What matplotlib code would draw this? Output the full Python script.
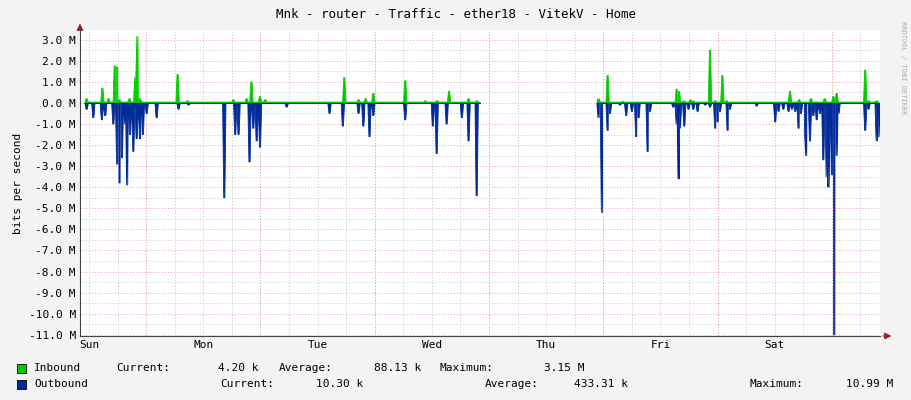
import numpy as np
import matplotlib
matplotlib.use('Agg')
import matplotlib.pyplot as plt
from matplotlib.patches import Rectangle

# --- DATOS (horas desde el inicio del gráfico, valores en Mbit/s) ---
in_t = [1.4, 4.7, 6.0, 7.3, 7.8, 8.3, 10.4, 11.6, 12.05, 12.6, 20.5, 22.6, 32.2, 35.0, 36.0, 37.8, 38.9,
        55.5, 58.5, 60.0, 61.6, 68.3, 72.5, 75.0, 77.5, 81.6, 83.3,
        108.9, 110.8, 114.0, 125.3, 125.8, 126.8, 128.2, 128.8, 132.3, 133.4, 134.9, 135.8, 149.1,
        151.0, 153.5, 156.4, 158.2, 158.9, 164.9, 165.6, 167.3]
in_v = [0.2, 0.7, 0.2, 1.75, 1.7, 0.15, 0.2, 1.2, 3.15, 0.2, 1.35, 0.1, 0.15, 0.2, 1.0, 0.3, 0.15,
        1.2, 0.15, 0.2, 0.45, 1.05, 0.1, 0.1, 0.55, 0.2, 0.1,
        0.2, 1.3, 0.07, 0.65, 0.55, 0.1, 0.15, 0.1, 2.5, 0.1, 1.3, 0.1, 0.55,
        0.15, 0.2, 0.2, 0.3, 0.45, 1.55, 0.1, 0.1]

out_t = [1.4, 2.8, 4.6, 5.3, 7.0, 7.8, 8.3, 8.8, 9.5, 9.9, 10.5, 11.2, 11.9, 12.6, 13.2, 14.0, 16.1,
         20.7, 22.8, 30.3, 32.6, 33.3, 35.6, 36.4, 37.1, 37.8, 43.4, 52.4, 55.2, 58.5, 59.5, 60.8,
         61.6, 68.3, 74.1, 74.9, 77.0, 80.2, 81.6, 83.3,
         108.9, 109.4, 109.6, 110.8, 111.3, 113.4, 114.7, 115.9, 116.8, 117.3, 119.2, 119.7,
         124.6, 125.3, 125.7, 126.0, 126.9, 127.8, 128.8, 129.7, 131.3, 132.3, 133.4, 133.9,
         134.4, 136.0, 136.5, 142.1, 146.0, 146.7, 147.7, 148.8, 149.5, 150.2, 150.9, 151.4,
         152.3, 152.5, 153.3, 154.0, 154.7, 155.4, 156.1, 156.8, 157.2, 157.9, 158.4, 158.9,
         159.3, 164.9, 165.6, 167.3, 167.7]
out_v = [-0.3, -0.7, -0.8, -0.6, -1.0, -2.9, -3.8, -2.6, -1.0, -3.9, -1.5, -2.3, -1.7, -1.7, -1.5,
         -0.5, -0.7, -0.3, -0.1, -4.5, -1.5, -1.5, -2.8, -1.2, -1.8, -2.1, -0.2, -0.5, -1.1, -0.5,
         -1.1, -1.6, -0.6, -0.8, -1.1, -2.4, -1.0, -0.7, -1.8, -4.4,
         -0.7, -0.7, -5.2, -1.3, -0.5, -0.1, -0.6, -0.4, -1.6, -0.7, -2.3, -0.4,
         -0.2, -1.0, -3.6, -1.2, -1.1, -0.3, -0.3, -0.4, -0.1, -0.2, -1.2, -0.9,
         -0.4, -1.3, -0.3, -0.15, -0.9, -0.4, -0.3, -0.4, -0.3, -0.4, -1.2, -0.5,
         -1.5, -2.5, -1.8, -0.6, -0.8, -0.5, -2.7, -3.5, -4.0, -3.4, -11.0, -2.5,
         -0.5, -1.3, -0.3, -1.8, -1.6]

segments = [(1.0, 84.0), (108.8, 167.8)]
day_labels = ['Sun', 'Mon', 'Tue', 'Wed', 'Thu', 'Fri', 'Sat']
first_midnight = 13.9

BG = '#f3f3f3'
GREEN = '#00cc00'
BLUE = '#002a97'


def build(ts, vs, base):
    # cada muestra se dibuja como un pico ancho con meseta corta
    xs, ys = [], []
    for a, b in segments:
        pts = [(a, base), (b, base)]
        for t, v in zip(ts, vs):
            if a <= t <= b:
                pts += [(t - 0.35, base), (t - 0.12, v), (t + 0.12, v), (t + 0.35, base)]
        pts.sort()
        xs += [p[0] for p in pts] + [np.nan]
        ys += [p[1] for p in pts] + [np.nan]
    return np.array(xs), np.array(ys)


fig = plt.figure(figsize=(9.11, 4.0), dpi=100, facecolor=BG)
ax = fig.add_axes([80 / 911, 1 - 336 / 400, 800 / 911, 306 / 400])
ax.set_facecolor('white')
ax.set_xlim(0, 168)
ax.set_ylim(-11.06, 3.46)

# rejilla
for h in np.arange(first_midnight - 12, 168, 6):
    ax.axvline(h, color='#c8c8c8', lw=0.7, ls=(0, (1, 2)), zorder=0)
for h in np.arange(first_midnight, 168, 24):
    ax.axvline(h, color='#f0a0a0', lw=0.7, ls=(0, (1, 2)), zorder=0)
for y in np.arange(-11, 3.5, 0.5):
    col = '#f0a0a0' if y == int(y) else '#c8c8c8'
    ax.axhline(y, color=col, lw=0.7, ls=(0, (1, 2)), zorder=0)

x, y = build(in_t, in_v, 0.04)
ax.fill_between(x, 0, y, color=GREEN, lw=0, zorder=2)
ax.plot(x, y, color=GREEN, lw=0.6, zorder=2)
x, y = build(out_t, out_v, -0.03)
ax.fill_between(x, 0, y, color=BLUE, lw=0, zorder=3)
ax.plot(x, y, color=BLUE, lw=0.6, zorder=3)
for a, b in segments:
    ax.plot([a, b], [0, 0], color=BLUE, lw=0.8, zorder=4)

for s in ax.spines.values():
    s.set_visible(False)
ax.axhline(-11.06, color='#444444', lw=0.8, zorder=5, clip_on=False)
ax.axvline(0, color='#444444', lw=0.8, zorder=5, clip_on=False)
ax.annotate('', xy=(171, -11.06), xytext=(168, -11.06),
            arrowprops=dict(arrowstyle='-|>', color='#992222', lw=0.8), annotation_clip=False)
ax.annotate('', xy=(0, 3.9), xytext=(0, 3.46),
            arrowprops=dict(arrowstyle='-|>', color='#992222', lw=0.8), annotation_clip=False)

font = dict(family='DejaVu Sans Mono', fontsize=8)
ax.set_xticks([first_midnight - 12 + 24 * i for i in range(7)])
ax.set_xticklabels(day_labels, **font)
ax.set_yticks(np.arange(-11, 3.5, 1.0))
ax.set_yticklabels([f'{v:.1f} M' for v in np.arange(-11, 3.5, 1.0)], **font)
ax.tick_params(length=0, pad=3)
ax.set_ylabel('bits per second', **font)

fig.text(0.5, 1 - 14 / 400, 'Mnk - router - Traffic - ether18 - VitekV - Home', ha='center', va='center',
         family='DejaVu Sans Mono', fontsize=9)
fig.text(903 / 911, 0.83, 'RRDTOOL / TOBI OETIKER', rotation=270, ha='center', va='center',
         family='DejaVu Sans Mono', fontsize=5, color='#aaaaaa')

# leyenda
fig.patches.append(Rectangle((17 / 911, 1 - 373 / 400), 9 / 911, 9 / 400, transform=fig.transFigure,
                             facecolor=GREEN, edgecolor='black', lw=0.6))
fig.patches.append(Rectangle((17 / 911, 1 - 389 / 400), 9 / 911, 9 / 400, transform=fig.transFigure,
                             facecolor=BLUE, edgecolor='black', lw=0.6))
y1, y2 = 1 - 368 / 400, 1 - 384 / 400
legend_items = [
    (34, y1, 'Inbound'), (116, y1, 'Current:'), (259, y1, '4.20 k', 'right'),
    (279, y1, 'Average:'), (421, y1, '88.13 k', 'right'),
    (440, y1, 'Maximum:'), (584, y1, '3.15 M', 'right'),
    (34, y2, 'Outbound'), (220, y2, 'Current:'), (363, y2, '10.30 k', 'right'),
    (485, y2, 'Average:'), (628, y2, '433.31 k', 'right'),
    (750, y2, 'Maximum:'), (893, y2, '10.99 M', 'right'),
]
for item in legend_items:
    ha = item[3] if len(item) > 3 else 'left'
    fig.text(item[0] / 911, item[1], item[2], va='center', ha=ha, **font)

fig.savefig('out.png', dpi=100, facecolor=BG)
